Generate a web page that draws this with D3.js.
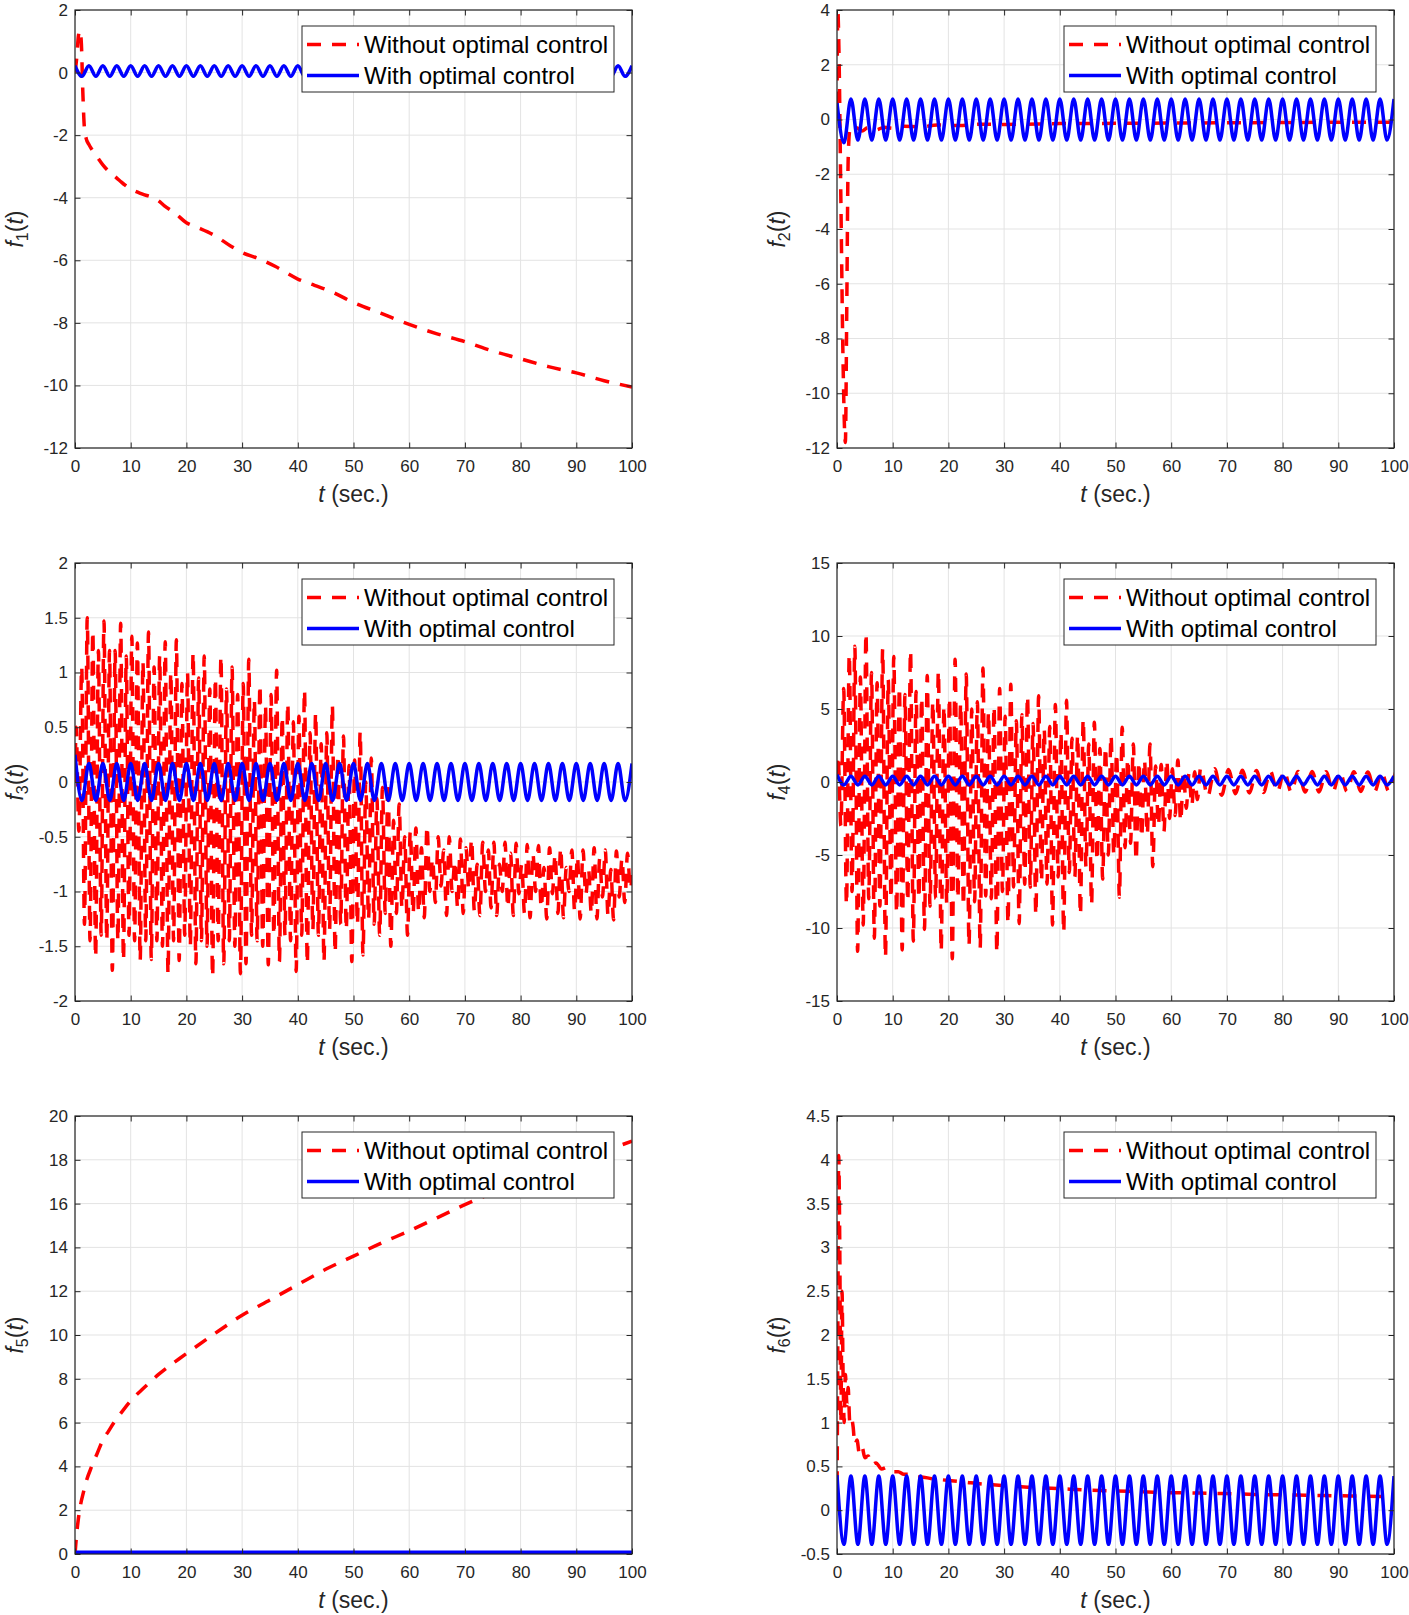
<!DOCTYPE html>
<html>
<head>
<meta charset="utf-8">
<script src="https://cdnjs.cloudflare.com/ajax/libs/d3/7.8.5/d3.min.js"></script>
<style>
body { margin: 0; background: #fff; }
svg { display: block; font-family: "Liberation Sans", Arial, Helvetica, sans-serif; }
</style>
</head>
<body>
<svg id="chart" width="1409" height="1615"></svg>
<script>
/*
 * Data
 */

// Shared time axis
var tiempoTicks = [0, 10, 20, 30, 40, 50, 60, 70, 80, 90, 100];

// Y ticks of each panel
var f1Ticks = [-12, -10, -8, -6, -4, -2, 0, 2];
var f2Ticks = [-12, -10, -8, -6, -4, -2, 0, 2, 4];
var f3Ticks = [-2, -1.5, -1, -0.5, 0, 0.5, 1, 1.5, 2];
var f4Ticks = [-15, -10, -5, 0, 5, 10, 15];
var f5Ticks = [0, 2, 4, 6, 8, 10, 12, 14, 16, 18, 20];
var f6Ticks = [-0.5, 0, 0.5, 1, 1.5, 2, 2.5, 3, 3.5, 4, 4.5];

var leyenda = ["Without optimal control", "With optimal control"];

// Half period of the controlled oscillation (peaks every 2.5 s)
var pasoAzul = 1.25;
// Period of the fast uncontrolled oscillation in f3 / f4
var periodoRapido = 1.0;

// f1 without control [t, value]
var f1Red = [[0,0],[0.3,0.45],[0.6,1.15],[0.9,1.35],[1.15,0.9],[1.4,-0.6],[1.7,-1.8],[2,-2.1],[2.5,-2.3],
  [3,-2.45],[4,-2.7],[5,-2.95],[6,-3.15],[7,-3.3],[8,-3.45],[9,-3.6],[10,-3.72],[12,-3.88],[14,-4.0],
  [15,-4.1],[16,-4.25],[18,-4.5],[20,-4.8],[22,-4.95],[25,-5.2],[28,-5.55],[30,-5.75],[33,-5.95],
  [36,-6.2],[40,-6.6],[43,-6.8],[46,-7.0],[50,-7.35],[55,-7.7],[60,-8.05],[65,-8.35],[70,-8.6],
  [75,-8.9],[80,-9.15],[85,-9.4],[90,-9.6],[95,-9.85],[100,-10.05]];

// f2 without control
var f2Red = [[0,0.5],[0.15,4.0],[0.35,2.5],[0.7,-3],[1.1,-9],[1.5,-11.8],[1.75,-7],[2,-1.5],[2.3,-0.4],
  [2.8,-0.5],[3.5,-0.3],[4.5,-0.42],[5.5,-0.3],[7,-0.38],[8.5,-0.28],[10,-0.32],[12,-0.25],[15,-0.27],
  [18,-0.2],[22,-0.22],[26,-0.17],[30,-0.18],[40,-0.15],[50,-0.14],[60,-0.13],[70,-0.12],[80,-0.11],
  [90,-0.1],[100,-0.1]];

// f3 without control: upper / lower extreme of each fast cycle
var f3RedHi = [0.5,1.05,1.5,1.38,1.2,1.47,1.2,1.2,1.45,1.15,
  1.33,1.27,1.1,1.37,1.05,1.15,1.28,1.0,1.3,0.9,
  1.0,1.18,0.95,1.15,0.85,0.95,1.15,0.85,1.05,0.8,
  0.9,1.12,0.75,0.89,0.7,0.8,1.02,0.6,0.72,0.55,
  0.6,0.84,0.45,0.63,0.35,0.45,0.7,0.25,0.42,0.15,
  0.2,0.46,0.0,0.22,-0.15,-0.05,0.0,-0.35,-0.2,-0.5,
  -0.45,
  -0.42,-0.6,-0.4,-0.7,-0.5,-0.62,-0.5,-0.72,-0.52,-0.6,
  -0.52,-0.75,-0.55,-0.62,-0.55,-0.75,-0.55,-0.65,-0.56,-0.75,
  -0.57,-0.65,-0.58,-0.78,-0.6,-0.66,-0.6,-0.78,-0.62,-0.68,
  -0.62,-0.8,-0.6,-0.7,-0.62,-0.8,-0.63,-0.7,-0.65];
var f3RedLo = [-0.45,-1.3,-1.45,-1.6,-1.4,-1.45,-1.72,-1.45,-1.63,-1.4,
  -1.45,-1.63,-1.45,-1.62,-1.45,-1.5,-1.75,-1.45,-1.63,-1.4,
  -1.5,-1.66,-1.45,-1.5,-1.78,-1.45,-1.66,-1.45,-1.5,-1.75,
  -1.66,-1.4,-1.45,-1.5,-1.67,-1.4,-1.64,-1.4,-1.45,-1.73,
  -1.4,-1.66,-1.35,-1.4,-1.64,-1.35,-1.56,-1.3,-1.35,-1.64,
  -1.3,-1.58,-1.25,-1.3,-1.4,-1.2,-1.5,-1.2,-1.15,-1.4,
  -1.2,
  -1.19,-1.24,-1.0,-1.1,-0.95,-1.22,-1.0,-1.15,-1.2,-0.98,
  -1.18,-1.22,-1.0,-1.15,-1.22,-1.0,-1.15,-1.22,-1.02,-1.2,
  -1.24,-1.0,-1.15,-1.25,-1.02,-1.2,-1.24,-1.0,-1.18,-1.25,
  -1.03,-1.2,-1.25,-1.05,-1.22,-1.26,-1.05,-1.1,-0.98];

// f4 without control: fast cycles up to t = 65, then slow tail
var f4RedHi = [1.8,6.4,8.75,9.3,7.2,10.2,7.5,6.8,9.1,7.0,
  8.6,6.5,6.0,9.0,6.2,5.8,7.3,5.5,7.6,5.2,
  5.8,8.4,5.4,7.4,5.0,5.5,7.8,4.8,5.2,6.4,
  4.5,6.7,4.2,4.6,5.9,4.0,5.9,3.6,3.8,5.3,
  3.4,5.6,3.0,3.2,4.3,2.6,4.1,2.3,2.4,3.2,
  2.0,3.75,1.6,2.6,1.4,1.5,2.6,1.1,1.2,1.5,
  0.9,1.5,0.7,0.6,0.7];
var f4RedLo = [-3.0,-8.4,-7.5,-11.6,-9.8,-8.0,-10.7,-8.5,-12.0,-8.0,
  -9.0,-11.5,-8.2,-10.9,-8.0,-10.1,-8.5,-8.0,-11.6,-8.3,
  -12.1,-8.0,-8.5,-11.2,-8.2,-11.4,-7.8,-8.0,-11.7,-7.5,
  -9.7,-7.2,-9.7,-7.0,-7.2,-9.1,-6.8,-7.0,-9.8,-6.5,
  -10.3,-6.2,-6.5,-9.1,-5.8,-8.4,-5.4,-6.65,-5.0,-5.0,
  -7.9,-4.5,-4.2,-5.4,-3.8,-3.6,-5.8,-3.0,-3.4,-2.5,
  -2.3,-2.7,-1.8,-1.6,-1.2];
var f4RedTail = [1.0,-1.0,0.9,-0.9,0.85,-0.8,0.8,-0.75,0.78,-0.72,
  0.75,-0.7,0.75,-0.7,0.72,-0.68,0.72,-0.68,0.7,-0.66,
  0.7,-0.65,0.7,-0.65,0.68,-0.64,0.68,-0.64,0.68];

// f5 without control
var f5Red = [[0,0],[0.3,0.9],[0.6,1.6],[1,2.25],[1.5,2.8],[2,3.3],[3,4.0],[4,4.6],[5,5.2],[6,5.6],
  [7,6.0],[8,6.35],[10,7.0],[12,7.5],[15,8.2],[20,9.15],[25,10.05],[30,10.9],[35,11.6],[40,12.3],
  [45,13.0],[50,13.6],[55,14.2],[60,14.75],[65,15.35],[70,15.95],[75,16.5],[80,17.0],[85,17.5],
  [90,17.95],[95,18.4],[100,18.85]];

// f6 without control
var f6Red = [[0,0],[0.15,2.0],[0.3,4.05],[0.5,3.0],[0.7,1.0],[0.9,2.5],[1.1,1.5],[1.3,1.0],[1.5,1.55],
  [1.8,1.2],[2,1.4],[2.3,1.0],[2.6,1.05],[2.9,0.95],[3.2,0.75],[3.6,0.8],[4,0.65],[4.5,0.72],[5,0.6],
  [5.6,0.62],[6.2,0.52],[7,0.54],[8,0.47],[9,0.49],[10,0.44],[11,0.44],[12,0.41],[13,0.41],[14,0.38],
  [15,0.38],[17,0.36],[20,0.34],[23,0.32],[26,0.3],[30,0.28],[35,0.26],[40,0.245],[45,0.23],[50,0.22],
  [55,0.21],[60,0.2],[65,0.195],[70,0.19],[75,0.18],[80,0.175],[85,0.17],[90,0.165],[95,0.16],[100,0.155]];

// With control: alternating peak / trough every 1.25 s from t = 0
var f1Blue = [0.22,-0.12,0.22,-0.12,0.22,-0.12,0.22,-0.12,0.22,-0.12,
  0.22,-0.12,0.22,-0.12,0.22,-0.12,0.22,-0.12,0.22,-0.12,
  0.22,-0.12,0.22,-0.12,0.22,-0.12,0.22,-0.12,0.22,-0.12,
  0.22,-0.12,0.22,-0.12,0.22,-0.12,0.22,-0.12,0.22,-0.12,
  0.22,-0.12,0.22,-0.12,0.22,-0.12,0.22,-0.12,0.22,-0.12,
  0.22,-0.12,0.22,-0.12,0.22,-0.12,0.22,-0.12,0.22,-0.12,
  0.22,-0.12,0.22,-0.12,0.22,-0.12,0.22,-0.12,0.22,-0.12,
  0.22,-0.12,0.22,-0.12,0.22,-0.12,0.22,-0.12,0.22,-0.12,
  0.22];
var f2Blue = [0.6,-0.85,0.75,-0.75,0.75,-0.75,0.75,-0.75,0.75,-0.75,
  0.75,-0.75,0.75,-0.75,0.75,-0.75,0.75,-0.75,0.75,-0.75,
  0.75,-0.75,0.75,-0.75,0.75,-0.75,0.75,-0.75,0.75,-0.75,
  0.75,-0.75,0.75,-0.75,0.75,-0.75,0.75,-0.75,0.75,-0.75,
  0.75,-0.75,0.75,-0.75,0.75,-0.75,0.75,-0.75,0.75,-0.75,
  0.75,-0.75,0.75,-0.75,0.75,-0.75,0.75,-0.75,0.75,-0.75,
  0.75,-0.75,0.75,-0.75,0.75,-0.75,0.75,-0.75,0.75,-0.75,
  0.75,-0.75,0.75,-0.75,0.75,-0.75,0.75,-0.75,0.75,-0.75,
  0.75];
var f3Blue = [0.25,-0.17,0.17,-0.17,0.17,-0.17,0.17,-0.17,0.17,-0.17,
  0.17,-0.17,0.17,-0.17,0.17,-0.17,0.17,-0.17,0.17,-0.17,
  0.17,-0.17,0.17,-0.17,0.17,-0.17,0.17,-0.17,0.17,-0.17,
  0.17,-0.17,0.17,-0.17,0.17,-0.17,0.17,-0.17,0.17,-0.17,
  0.17,-0.17,0.17,-0.17,0.17,-0.17,0.17,-0.17,0.17,-0.17,
  0.17,-0.17,0.17,-0.17,0.17,-0.17,0.17,-0.17,0.17,-0.17,
  0.17,-0.17,0.17,-0.17,0.17,-0.17,0.17,-0.17,0.17,-0.17,
  0.17,-0.17,0.17,-0.17,0.17,-0.17,0.17,-0.17,0.17,-0.17,
  0.17];
var f4Blue = [0.5,-0.2,0.4,-0.2,0.4,-0.2,0.4,-0.2,0.4,-0.2,
  0.4,-0.2,0.4,-0.2,0.4,-0.2,0.4,-0.2,0.4,-0.2,
  0.4,-0.2,0.4,-0.2,0.4,-0.2,0.4,-0.2,0.4,-0.2,
  0.4,-0.2,0.4,-0.2,0.4,-0.2,0.4,-0.2,0.4,-0.2,
  0.4,-0.2,0.4,-0.2,0.4,-0.2,0.4,-0.2,0.4,-0.2,
  0.4,-0.2,0.4,-0.2,0.4,-0.2,0.4,-0.2,0.4,-0.2,
  0.4,-0.2,0.4,-0.2,0.4,-0.2,0.4,-0.2,0.4,-0.2,
  0.4,-0.2,0.4,-0.2,0.4,-0.2,0.4,-0.2,0.4,-0.2,
  0.4];
var f5Blue = [[0,0.08],[100,0.08]];
var f6Blue = [0.4,-0.39,0.39,-0.39,0.39,-0.39,0.39,-0.39,0.39,-0.39,
  0.39,-0.39,0.39,-0.39,0.39,-0.39,0.39,-0.39,0.39,-0.39,
  0.39,-0.39,0.39,-0.39,0.39,-0.39,0.39,-0.39,0.39,-0.39,
  0.39,-0.39,0.39,-0.39,0.39,-0.39,0.39,-0.39,0.39,-0.39,
  0.39,-0.39,0.39,-0.39,0.39,-0.39,0.39,-0.39,0.39,-0.39,
  0.39,-0.39,0.39,-0.39,0.39,-0.39,0.39,-0.39,0.39,-0.39,
  0.39,-0.39,0.39,-0.39,0.39,-0.39,0.39,-0.39,0.39,-0.39,
  0.39,-0.39,0.39,-0.39,0.39,-0.39,0.39,-0.39,0.39,-0.39,
  0.39];

/*
 * Series builders
 */

// values on an even time step
function pasoFijo(t0, paso, valores) {
	return valores.map(function(v, i) { return [t0 + i * paso, v]; });
}

// one upper and one lower extreme per fast cycle
function ciclos(t0, periodo, hi, lo) {
	var pts = [];
	for (var k = 0; k < hi.length; k++) {
		pts.push([t0 + k * periodo, hi[k]]);
		if (k < lo.length) pts.push([t0 + k * periodo + periodo / 2, lo[k]]);
	}
	return pts;
}

var f3RedPts = [[0, 0]].concat(ciclos(0.2, periodoRapido, f3RedHi, f3RedLo), [[100, -0.85]]);
var f4RedPts = [[0, 0.5]].concat(ciclos(0.2, periodoRapido, f4RedHi, f4RedLo), pasoFijo(65.3, pasoAzul, f4RedTail));

var paneles = [
	{ col: 0, row: 0, sub: "1", dom: [-12, 2], ticks: f1Ticks, red: f1Red, blue: pasoFijo(0, pasoAzul, f1Blue) },
	{ col: 1, row: 0, sub: "2", dom: [-12, 4], ticks: f2Ticks, red: f2Red, blue: pasoFijo(0, pasoAzul, f2Blue) },
	{ col: 0, row: 1, sub: "3", dom: [-2, 2], ticks: f3Ticks, red: f3RedPts, blue: pasoFijo(0, pasoAzul, f3Blue) },
	{ col: 1, row: 1, sub: "4", dom: [-15, 15], ticks: f4Ticks, red: f4RedPts, blue: pasoFijo(0, pasoAzul, f4Blue) },
	{ col: 0, row: 2, sub: "5", dom: [0, 20], ticks: f5Ticks, red: f5Red, blue: f5Blue },
	{ col: 1, row: 2, sub: "6", dom: [-0.5, 4.5], ticks: f6Ticks, red: f6Red, blue: pasoFijo(0, pasoAzul, f6Blue) }
];

/*
 * Layout
 */
var svg = d3.select("#chart");
var colX = [75, 837];
var rowY = [10, 563, 1116];
var plotW = 557;
var plotH = 438;
var tick = 5.5;
var colorEje = "#262626";
var colorRojo = "#ff0000";
var colorAzul = "#0000ff";
var grosor = 3.5;
var guiones = "14,11";

paneles.forEach(function(p, i) { dibujarPanel(p, i); });

function dibujarPanel(p, i) {
	var g = svg.append("g")
	  .attr("transform", "translate(" + colX[p.col] + "," + rowY[p.row] + ")");

	var x = d3.scaleLinear().domain([0, 100]).range([0, plotW]);
	var y = d3.scaleLinear().domain(p.dom).range([plotH, 0]);

	// grid
	g.append("g").selectAll("line").data(tiempoTicks).enter().append("line")
	  .attr("x1", function(d) { return x(d); }).attr("x2", function(d) { return x(d); })
	  .attr("y1", 0).attr("y2", plotH)
	  .attr("stroke", "#e3e3e3").attr("stroke-width", 1);
	g.append("g").selectAll("line").data(p.ticks).enter().append("line")
	  .attr("y1", function(d) { return y(d); }).attr("y2", function(d) { return y(d); })
	  .attr("x1", 0).attr("x2", plotW)
	  .attr("stroke", "#e3e3e3").attr("stroke-width", 1);

	// lines
	var clipId = "clip" + i;
	g.append("clipPath").attr("id", clipId)
	  .append("rect").attr("width", plotW).attr("height", plotH);

	var linea = d3.line()
	  .x(function(d) { return x(d[0]); })
	  .y(function(d) { return y(d[1]); })
	  .curve(d3.curveMonotoneX);

	var trazo = g.append("g").attr("clip-path", "url(#" + clipId + ")");
	trazo.append("path").datum(p.red)
	  .attr("d", linea).attr("fill", "none")
	  .attr("stroke", colorRojo).attr("stroke-width", grosor)
	  .attr("stroke-dasharray", guiones);
	trazo.append("path").datum(p.blue)
	  .attr("d", linea).attr("fill", "none")
	  .attr("stroke", colorAzul).attr("stroke-width", grosor);

	// axes, ticks inside on all four sides
	var ejes = [
		{ eje: d3.axisBottom(x).tickValues(tiempoTicks).tickFormat(String), tr: "translate(0," + plotH + ")", pad: 12 },
		{ eje: d3.axisTop(x).tickValues(tiempoTicks).tickFormat(""), tr: "translate(0,0)", pad: 3 },
		{ eje: d3.axisLeft(y).tickValues(p.ticks).tickFormat(String), tr: "translate(0,0)", pad: 7 },
		{ eje: d3.axisRight(y).tickValues(p.ticks).tickFormat(""), tr: "translate(" + plotW + ",0)", pad: 3 }
	];
	ejes.forEach(function(e) {
		var ge = g.append("g").attr("transform", e.tr)
		  .call(e.eje.tickSizeInner(-tick).tickSizeOuter(0).tickPadding(e.pad));
		ge.select(".domain").remove();
		ge.attr("font-family", null).attr("font-size", 17).attr("color", colorEje);
		ge.selectAll("text").attr("fill", colorEje);
	});

	g.append("rect").attr("width", plotW).attr("height", plotH)
	  .attr("fill", "none").attr("stroke", colorEje).attr("stroke-width", 1.2);

	// axis labels
	var tx = g.append("text")
	  .attr("x", plotW / 2).attr("y", plotH + 54)
	  .attr("text-anchor", "middle").attr("font-size", 23).attr("fill", colorEje);
	tx.append("tspan").attr("font-style", "italic").text("t");
	tx.append("tspan").text(" (sec.)");

	var ty = g.append("text")
	  .attr("transform", "translate(-52," + (plotH / 2) + ") rotate(-90)")
	  .attr("text-anchor", "middle").attr("font-size", 23).attr("fill", colorEje);
	ty.append("tspan").attr("font-style", "italic").text("f");
	ty.append("tspan").attr("font-size", 16).attr("dy", 5).text(p.sub);
	ty.append("tspan").attr("dy", -5).text("(");
	ty.append("tspan").attr("font-style", "italic").text("t");
	ty.append("tspan").text(")");

	// legend
	var lw = 312, lh = 66;
	var lg = g.append("g").attr("transform", "translate(" + (plotW - 18 - lw) + ",16)");
	lg.append("rect").attr("width", lw).attr("height", lh)
	  .attr("fill", "#fff").attr("stroke", colorEje).attr("stroke-width", 1);
	[0, 1].forEach(function(j) {
		var yy = 18.5 + j * 31;
		lg.append("line").attr("x1", 5).attr("x2", 57).attr("y1", yy).attr("y2", yy)
		  .attr("stroke", j === 0 ? colorRojo : colorAzul).attr("stroke-width", grosor)
		  .attr("stroke-dasharray", j === 0 ? guiones : null);
		lg.append("text").attr("x", 62).attr("y", yy + 8.5)
		  .attr("font-size", 24).attr("fill", "#000").text(leyenda[j]);
	});
}
</script>
</body>
</html>
